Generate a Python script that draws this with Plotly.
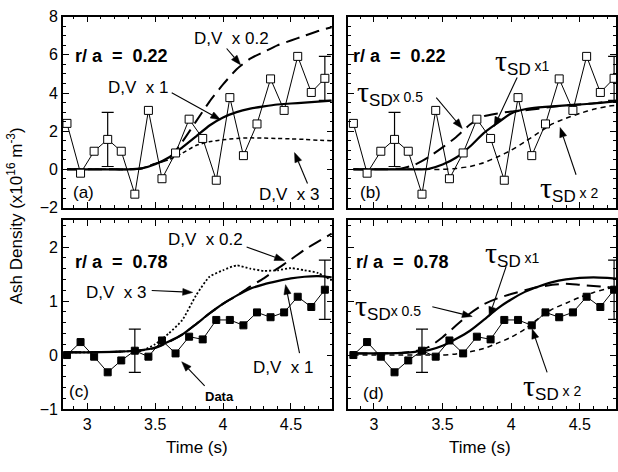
import math
import plotly.graph_objects as go

# ---------------- data ----------------
t_data = [2.85, 2.95, 3.05, 3.15, 3.25, 3.35, 3.45, 3.55, 3.65, 3.75,
          3.85, 3.95, 4.05, 4.15, 4.25, 4.35, 4.45, 4.55, 4.65, 4.75]
data_022 = [2.41, -0.2, 0.95, 1.57, 0.95, -1.3, 3.09, -0.49, 0.86, 2.63,
            1.62, -0.57, 3.76, 0.72, 2.38, 4.74, 3.09, 5.92, 4.03, 4.77]
data_078 = [0.0, 0.24, -0.03, -0.32, -0.1, 0.08, -0.03, 0.27, 0.03, 0.34,
            0.29, 0.65, 0.65, 0.55, 0.79, 0.7, 0.79, 1.08, 0.89, 1.21]
err_t_022 = [3.15, 4.75]
err_v_022 = [1.57, 4.77]
err_e_022 = [1.42, 1.15]
err_t_078 = [3.35, 4.75]
err_v_078 = [0.08, 1.21]
err_e_078 = [0.4, 0.55]

t_model = [2.85, 3.0, 3.2, 3.3, 3.4, 3.5, 3.6, 3.7, 3.8, 3.9, 4.0,
           4.1, 4.2, 4.3, 4.4, 4.5, 4.6, 4.7, 4.8]
# panel (a): r/a = 0.22, D,V scans
a_dv1 = [0, 0, 0, 0, 0.05, 0.27, 0.62, 1.15, 1.72, 2.3, 2.72, 3.0, 3.18, 3.3, 3.4, 3.45, 3.5, 3.55, 3.6]
a_dv02 = [0, 0, 0, 0, 0.05, 0.3, 0.55, 1.45, 2.5, 3.55, 4.45, 5.25, 5.8, 6.15, 6.5, 6.75, 7.0, 7.25, 7.45]
a_dv3 = [0, 0, 0, 0, 0.05, 0.3, 0.5, 0.85, 1.25, 1.45, 1.55, 1.62, 1.65, 1.64, 1.62, 1.6, 1.57, 1.53, 1.5]
# panel (b): r/a = 0.22, tau_SD scans
b_t1 = [0, 0, 0, 0, 0.03, 0.25, 0.62, 1.2, 1.9, 2.43, 2.93, 3.15, 3.25, 3.3, 3.35, 3.4, 3.45, 3.52, 3.58]
b_t05 = [0, 0, 0.05, 0.25, 0.65, 1.15, 1.7, 2.35, 2.78, 2.93, 3.03, 3.1, 3.18, 3.28, 3.35, 3.4, 3.46, 3.55, 3.62]
b_t2 = [0, 0, 0, 0, 0, 0, 0.05, 0.15, 0.35, 0.65, 1.0, 1.45, 1.92, 2.38, 2.68, 2.93, 3.15, 3.3, 3.38]
# panel (c): r/a = 0.78, D,V scans
c_dv1 = [0.05, 0.05, 0.06, 0.07, 0.09, 0.14, 0.25, 0.38, 0.57, 0.77, 0.95, 1.1, 1.23, 1.31, 1.37, 1.42, 1.45, 1.46, 1.44]
c_dv02 = [0.05, 0.05, 0.06, 0.07, 0.09, 0.13, 0.24, 0.38, 0.57, 0.77, 0.95, 1.1, 1.27, 1.42, 1.6, 1.77, 1.95, 2.1, 2.25]
c_dv3 = [0.05, 0.05, 0.06, 0.07, 0.08, 0.2, 0.4, 0.65, 1.1, 1.45, 1.57, 1.66, 1.6, 1.56, 1.57, 1.61, 1.57, 1.52, 1.38]
# panel (d): r/a = 0.78, tau_SD scans
d_t1 = [0.03, 0.03, 0.04, 0.06, 0.09, 0.17, 0.3, 0.45, 0.65, 0.86, 1.03, 1.17, 1.27, 1.35, 1.4, 1.43, 1.44, 1.43, 1.41]
d_t05 = [0.03, 0.03, 0.04, 0.07, 0.15, 0.33, 0.55, 0.77, 0.94, 1.05, 1.13, 1.2, 1.26, 1.3, 1.32, 1.3, 1.28, 1.26, 1.22]
d_t2 = [0.0, 0.0, 0.0, 0.0, 0.0, 0.0, 0.02, 0.06, 0.12, 0.22, 0.33, 0.48, 0.68, 0.85, 0.96, 1.07, 1.16, 1.23, 1.27]

x_ticks = [3, 3.5, 4, 4.5]
x_tick_text = ["3", "3.5", "4", "4.5"]

# ---------------- figure ----------------
W, H = 618, 472
FONT = "Liberation Sans, Arial, Helvetica, sans-serif"
fig = go.Figure()

panels = {
    "a": dict(xa="x", ya="y"),
    "b": dict(xa="x2", ya="y2"),
    "c": dict(xa="x3", ya="y3"),
    "d": dict(xa="x4", ya="y4"),
}

def line(p, x, y, dash, width):
    fig.add_trace(go.Scatter(x=x, y=y, mode="lines", line=dict(color="black", width=width, dash=dash, shape="spline", smoothing=0.6),
                             xaxis=panels[p]["xa"], yaxis=panels[p]["ya"], showlegend=False, hoverinfo="skip"))

def data(p, y, fill, ms):
    fig.add_trace(go.Scatter(x=t_data, y=y, mode="lines+markers",
                             line=dict(color="black", width=1),
                             marker=dict(symbol="square", size=ms, color=fill,
                                         line=dict(color="black", width=1)),
                             xaxis=panels[p]["xa"], yaxis=panels[p]["ya"], showlegend=False))

def errs(p, x, y, e):
    fig.add_trace(go.Scatter(x=x, y=y, mode="markers", marker=dict(size=1, opacity=0),
                             error_y=dict(type="data", array=e, visible=True, color="black", thickness=1.2, width=6),
                             xaxis=panels[p]["xa"], yaxis=panels[p]["ya"], showlegend=False))

# panel a
line("a", t_model, a_dv3, "4px,3px", 1.5)
line("a", t_model, a_dv02, "14px,7px", 2)
line("a", t_model, a_dv1, "solid", 2.2)
errs("a", err_t_022, err_v_022, err_e_022)
data("a", data_022, "white", 8)
# panel b
line("b", t_model, b_t2, "5px,4px", 1.5)
line("b", t_model, b_t05, "14px,7px", 2)
line("b", t_model, b_t1, "solid", 2.2)
errs("b", err_t_022, err_v_022, err_e_022)
data("b", data_022, "white", 8)
# panel c
line("c", t_model, c_dv3, "2px,2px", 1.8)
line("c", t_model, c_dv02, "14px,7px", 2)
line("c", t_model, c_dv1, "solid", 2.2)
errs("c", err_t_078, err_v_078, err_e_078)
data("c", data_078, "black", 7)
# panel d
line("d", t_model, d_t2, "5px,4px", 1.5)
line("d", t_model, d_t05, "14px,7px", 2)
line("d", t_model, d_t1, "solid", 2.2)
errs("d", err_t_078, err_v_078, err_e_078)
data("d", data_078, "black", 7)

# geometry (pixels)
xl_left = (63, 333)
xl_right = (349, 617)
yl_top = (9, 207)
yl_bot = (220, 416)

def xdom(px):
    return [px[0] / W, px[1] / W]

def ydom(py):
    return [1 - py[1] / H, 1 - py[0] / H]

ax_common = dict(showline=True, linecolor="black", linewidth=1.5, mirror="allticks",
                 ticks="inside", ticklen=6, tickwidth=1.2, tickcolor="black",
                 showgrid=False, zeroline=False,
                 tickfont=dict(family=FONT, size=16, color="black"))

def xaxis(dom, anchor, rng, labels):
    return dict(domain=xdom(dom), anchor=anchor, range=rng, tickvals=x_ticks, ticktext=x_tick_text,
                showticklabels=labels,
                minor=dict(dtick=0.1, tick0=2.8, ticks="inside", ticklen=3, tickcolor="black", showgrid=False),
                **ax_common)

def yaxis(dom, anchor, rng, dt, mdt, labels):
    return dict(domain=ydom(dom), anchor=anchor, range=rng, dtick=dt, tick0=0, showticklabels=labels,
                minor=dict(dtick=mdt, ticks="inside", ticklen=3, tickcolor="black", showgrid=False),
                **ax_common)

rng_left = [2.82, 4.806]
rng_right = [2.814, 4.764]
fig.update_layout(
    xaxis=xaxis(xl_left, "y", rng_left, False),
    yaxis=yaxis(yl_top, "x", [-2, 8], 2, 0.5, True),
    xaxis2=xaxis(xl_right, "y2", rng_right, False),
    yaxis2=yaxis(yl_top, "x2", [-2, 8], 2, 0.5, False),
    xaxis3=xaxis(xl_left, "y3", rng_left, True),
    yaxis3=yaxis(yl_bot, "x3", [-1, 2.5], 1, 0.2, True),
    xaxis4=xaxis(xl_right, "y4", rng_right, True),
    yaxis4=yaxis(yl_bot, "x4", [-1, 2.5], 1, 0.2, False),
    width=W, height=H, margin=dict(l=0, r=0, t=0, b=0),
    paper_bgcolor="white", plot_bgcolor="white",
    font=dict(family=FONT, size=16, color="black"),
)

ann = []
shapes = []

def text(s, px, py, size=17, bold=False, anchor="left", angle=0):
    if bold:
        s = "<b>" + s + "</b>"
    ann.append(dict(text=s, x=px / W, y=1 - py / H, xref="paper", yref="paper", showarrow=False,
                    xanchor=anchor, yanchor="middle", textangle=angle,
                    font=dict(family=FONT, size=size, color="black")))

def P(px, py):
    return px / W, 1 - py / H

def arrow(x0, y0, x1, y1, head=10, half=3.6):
    dx, dy = x1 - x0, y1 - y0
    L = math.hypot(dx, dy)
    ux, uy = dx / L, dy / L
    bx, by = x1 - ux * head, y1 - uy * head
    # shaft
    a0, b0 = P(x0, y0)
    a1, b1 = P(bx, by)
    shapes.append(dict(type="line", xref="paper", yref="paper", x0=a0, y0=b0, x1=a1, y1=b1,
                       line=dict(color="black", width=1.1)))
    # head
    lx, ly = bx - uy * half, by + ux * half
    rx, ry = bx + uy * half, by - ux * half
    pts = [P(x1, y1), P(lx, ly), P(rx, ry)]
    path = "M {:.5f} {:.5f} L {:.5f} {:.5f} L {:.5f} {:.5f} Z".format(*pts[0], *pts[1], *pts[2])
    shapes.append(dict(type="path", xref="paper", yref="paper", path=path,
                       fillcolor="black", line=dict(color="black", width=0.5)))

def tau(mult):
    return ("<span style='font-family:Liberation Serif;font-size:30px'>τ</span>"
            "<sub><span style='font-size:17px'>SD</span></sub><span style='font-size:14px'>" + mult + "</span>")

# panel a
text("r/ a  =  0.22", 73, 50, 18, True)
text("D,V  x 0.2", 192, 32)
text("D,V  x 1", 106, 82)
text("D,V  x 3", 257, 193)
text("(a)", 71, 191)
arrow(227, 42, 241, 59)
arrow(172, 88, 221, 116)
arrow(308, 182, 295, 150)
# panel b
text("r/ a  =  0.22", 352, 50, 18, True)
text(tau(" x1"), 494, 55)
text(tau("x 0.5"), 356, 88)
text(tau(" x 2"), 539, 187)
text("(b)", 359, 191)
arrow(518, 72, 495, 123)
arrow(437, 93, 463, 125)
arrow(577, 173, 561, 124)
# panel c
text("r/ a  =  0.78", 73, 263, 18, True)
text("D,V  x 0.2", 166, 240)
text("D,V  x 3", 84, 295)
text("D,V  x 1", 251, 373)
text("Data", 203, 403, 13, True)
text("(c)", 67, 398)
arrow(247, 248, 285, 262)
arrow(152, 293, 193, 295)
arrow(300, 358, 286, 287)
arrow(205, 392, 182, 367)
# panel d
text("r/ a  =  0.78", 355, 263, 18, True)
text(tau(" x1"), 484, 255)
text(tau("x 0.5"), 354, 310)
text(tau(" x 2"), 522, 393)
text("(d)", 362, 400)
arrow(507, 268, 490, 320)
arrow(433, 310, 473, 320)
arrow(548, 378, 533, 333)

# axis titles
text("Time (s)", 197, 456, 17, anchor="center")
text("Time (s)", 481, 456, 17, anchor="center")
text("Ash Density (x10<sup>16</sup> m<sup>-3</sup>)", 15, 215, 17, anchor="center", angle=-90)

fig.update_layout(annotations=ann, shapes=shapes)
fig.write_html("out.html", config={"displayModeBar": False},
               post_script="document.body.style.margin='0';document.body.style.padding='0';")
